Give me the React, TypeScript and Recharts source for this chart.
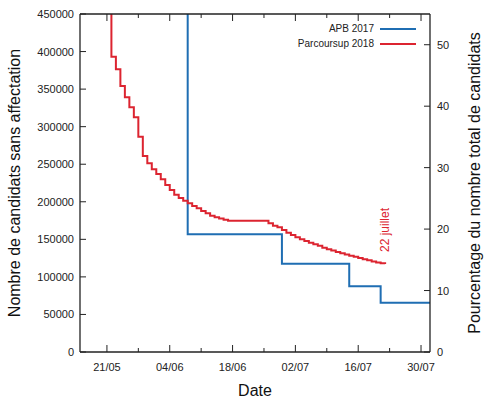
import {
  ComposedChart, Line, XAxis, YAxis, Legend, LabelList,
} from "recharts";

// day 0 = 15/05
const majorDays = [6, 20, 34, 48, 62, 76];
const majorLabels = ["21/05", "04/06", "18/06", "02/07", "16/07", "30/07"];
const minorDays = [13, 27, 41, 55, 69];

const countTicks = [0, 50000, 100000, 150000, 200000, 250000, 300000, 350000, 400000, 450000];
const pctTicks = [0, 10, 20, 30, 40, 50];

const apbDays = [23, 24, 45, 60, 67, 78];
const apbValues = [812000, 156700, 117600, 87500, 65600, 65600];

const psDays = [
  6, 7, 8, 9, 10, 11, 12, 13, 14, 15, 16, 17, 18, 19, 20, 21, 22, 23, 24, 25, 26, 27, 28, 29, 30, 31, 32, 33,
  42, 43, 44, 45, 46, 47, 48, 49, 50, 51, 52, 53, 54, 55, 56, 57, 58, 59, 60, 61, 62, 63, 64, 65, 66, 67, 68,
];
const psValues = [
  812000, 393200, 376400, 354200, 339100, 326000, 312500, 286600, 261000, 251200, 243300, 237000, 229900, 222300,
  215700, 209400, 205000, 201400, 198000, 194400, 191300, 187700, 184700, 181500, 179300, 177800, 176200, 174800,
  171300, 168200, 166000, 162400, 158800, 155800, 152700, 150000, 147800, 145500, 143400, 141500, 138900, 136900,
  135000, 133100, 131500, 129900, 128300, 126700, 125100, 123600, 122100, 120600, 119300, 118100, 117200,
];

const BLUE = "#1f6eb3";
const RED = "#dc2430";
const INK = "#222";
const FONT = "'Liberation Sans', Arial, sans-serif";

const apbData = apbDays.map((d, i) => ({ day: d, value: apbValues[i] }));
const psData = psDays.map((d, i) => ({ day: d, value: psValues[i] }));
const xTicks = [...majorDays, ...minorDays].sort((a, b) => a - b);

function BottomTick({ x, y, payload }: any) {
  const i = majorDays.indexOf(payload.value);
  return (
    <g>
      <line x1={x} x2={x} y1={y} y2={y - (i >= 0 ? 7 : 4)} stroke={INK} strokeWidth={1} />
      {i >= 0 && (
        <text x={x} y={y + 19} textAnchor="middle" fontSize={11} fill={INK} fontFamily={FONT}>{majorLabels[i]}</text>
      )}
    </g>
  );
}

function TopTick({ x, y, payload }: any) {
  const major = majorDays.includes(payload.value);
  return <line x1={x} x2={x} y1={y} y2={y + (major ? 7 : 4)} stroke={INK} strokeWidth={1} />;
}

function LeftTick({ x, y, payload }: any) {
  return (
    <g>
      <line x1={x} x2={x + 6} y1={y} y2={y} stroke={INK} strokeWidth={1} />
      <text x={x - 6} y={y} dy={4} textAnchor="end" fontSize={11} fill={INK} fontFamily={FONT}>{payload.value}</text>
    </g>
  );
}

function RightTick({ x, y, payload }: any) {
  return (
    <g>
      <line x1={x - 6} x2={x} y1={y} y2={y} stroke={INK} strokeWidth={1} />
      <text x={x + 7} y={y} dy={4} textAnchor="start" fontSize={11} fill={INK} fontFamily={FONT}>{payload.value}</text>
    </g>
  );
}

function vLabel(text: string, dx: number) {
  return ({ viewBox }: any) => {
    const cx = viewBox.x + dx;
    const cy = viewBox.y + viewBox.height / 2;
    return (
      <text x={cx} y={cy} transform={`rotate(-90 ${cx} ${cy})`} textAnchor="middle" dominantBaseline="central"
        fontSize={16} fill="#111" fontFamily={FONT}>{text}</text>
    );
  };
}

function renderLegend({ payload }: any) {
  return (
    <div style={{ fontFamily: FONT, fontSize: 10, color: INK }}>
      {(payload || []).map((p: any) => (
        <div key={p.value} style={{ display: "flex", justifyContent: "flex-end", alignItems: "center", height: 15 }}>
          <span>{p.value}</span>
          <span style={{ display: "inline-block", width: 36, height: 2, background: p.color, marginLeft: 6 }} />
        </div>
      ))}
    </div>
  );
}

function EndLabel({ x, y, index }: any) {
  if (index !== psData.length - 1) return null;
  const cy = y - 34;
  return (
    <text x={x} y={cy} transform={`rotate(-90 ${x} ${cy})`} textAnchor="middle" dominantBaseline="central"
      fontSize={12} fill={RED} fontFamily={FONT}>22 juillet</text>
  );
}

export default function App() {
  const axisLine = { stroke: INK, strokeWidth: 1.3 };
  return (
    <div style={{ position: "absolute", left: 0, top: 0, width: 500, height: 400, background: "#fff" }}>
      <ComposedChart width={500} height={400} margin={{ top: 0, right: 0, bottom: 0, left: 0 }} style={{ fontFamily: FONT }}>
        <XAxis xAxisId="top" orientation="top" type="number" dataKey="day" domain={[0, 78]} ticks={xTicks}
          allowDataOverflow height={14} tickSize={0} tickMargin={0} tickLine={false} axisLine={axisLine}
          tick={<TopTick />} interval={0} />
        <XAxis xAxisId="x" type="number" dataKey="day" domain={[0, 78]} ticks={xTicks} allowDataOverflow
          height={48} tickSize={0} tickMargin={0} tickLine={false} axisLine={axisLine} tick={<BottomTick />} interval={0}
          label={{ content: ({ viewBox }: any) => (
            <text x={viewBox.x + viewBox.width / 2} y={viewBox.y + 38} textAnchor="middle" dominantBaseline="central"
              fontSize={16} fill="#111" fontFamily={FONT}>Date</text>
          ) }} />
        <YAxis yAxisId="left" type="number" domain={[0, 450000]} ticks={countTicks} allowDataOverflow width={80}
          tickSize={0} tickMargin={0} tickLine={false} axisLine={axisLine} tick={<LeftTick />} interval={0}
          label={{ content: vLabel("Nombre de candidats sans affectation", 14) }} />
        <YAxis yAxisId="right" orientation="right" type="number" domain={[0, 55]} ticks={pctTicks} allowDataOverflow
          width={70} tickSize={0} tickMargin={0} tickLine={false} axisLine={axisLine} tick={<RightTick />} interval={0}
          label={{ content: vLabel("Pourcentage du nombre total de candidats", 44) }} />
        <Legend layout="vertical" align="center" verticalAlign="middle" content={renderLegend}
          wrapperStyle={{ left: 250, top: 21, width: 166, height: 30 }} />
        <Line xAxisId="x" yAxisId="left" data={apbData} dataKey="value" name="APB 2017" type="stepAfter"
          stroke={BLUE} strokeWidth={2} dot={false} isAnimationActive={false} />
        <Line xAxisId="x" yAxisId="left" data={psData} dataKey="value" name="Parcoursup 2018" type="stepAfter"
          stroke={RED} strokeWidth={2} dot={false} isAnimationActive={false}>
          <LabelList dataKey="value" content={<EndLabel />} />
        </Line>
      </ComposedChart>
    </div>
  );
}
